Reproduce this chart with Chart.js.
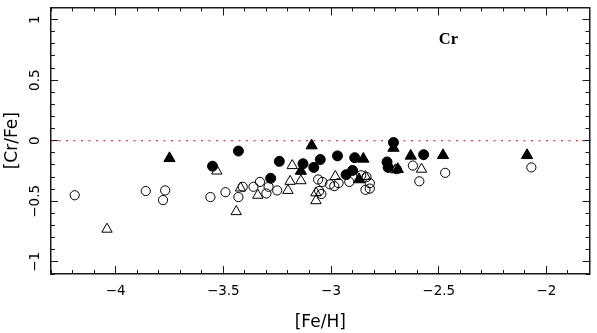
<!DOCTYPE html>
<html><head><meta charset="utf-8">
<script src="https://cdn.jsdelivr.net/npm/chart.js@4"></script>
<style>html,body{margin:0;padding:0;background:#fff}#wrap{width:597px;height:333px;position:relative}</style>
</head><body><div id="wrap"><canvas id="c"></canvas></div>
<script>
// ---- data ----
const filledCircleX = [-3.55, -3.43, -3.28, -3.24, -3.13, -3.08, -3.05, -2.97, -2.93, -2.90, -2.89, -2.71, -2.74, -2.735, -2.57];
const filledCircleY = [-0.21, -0.085, -0.31, -0.17, -0.19, -0.22, -0.155, -0.125, -0.28, -0.245, -0.14, -0.015, -0.175, -0.22, -0.115];

const filledTriX = [-3.75, -3.09, -3.14, -2.85, -2.87, -2.71, -2.69, -2.63, -2.48, -2.09];
const filledTriY = [-0.145, -0.04, -0.25, -0.15, -0.32, -0.06, -0.235, -0.125, -0.12, -0.12];

const openCircleX = [-4.19, -3.86, -3.77, -3.78, -3.56, -3.49, -3.43, -3.41, -3.36, -3.33, -3.30, -3.29, -3.25, -3.06, -3.04, -3.055, -3.045, -3.005, -2.985, -2.965, -2.915, -2.86, -2.835, -2.82, -2.84, -2.82, -2.695, -2.62, -2.59, -2.47, -2.07];
const openCircleY = [-0.45, -0.415, -0.41, -0.49, -0.465, -0.425, -0.465, -0.38, -0.38, -0.34, -0.435, -0.38, -0.41, -0.32, -0.34, -0.415, -0.44, -0.36, -0.375, -0.35, -0.34, -0.285, -0.3, -0.35, -0.405, -0.395, -0.235, -0.205, -0.335, -0.265, -0.22];

const openTriX = [-4.04, -3.53, -3.44, -3.42, -3.34, -3.20, -3.19, -3.18, -3.14, -3.07, -3.07, -2.98, -2.84, -2.58, -2.70];
const openTriY = [-0.73, -0.25, -0.585, -0.39, -0.45, -0.41, -0.335, -0.205, -0.33, -0.43, -0.495, -0.295, -0.295, -0.235, -0.24];

const refLineX = [-4.3, -1.8];
const refLineY = [0, 0];

const xTickValues = [-4, -3.5, -3, -2.5, -2];
const yTickValues = [-1, -0.5, 0, 0.5, 1];
const X_MIN = -4.3, X_MAX = -1.8, Y_MIN = -1.1, Y_MAX = 1.1;

const elementLabel = 'Cr';
const elementLabelX = -2.455, elementLabelY = 0.83;

// ---- chart ----
const INK = '#1a1a1a';
const pts = (xs, ys) => xs.map((x, i) => ({x, y: ys[i]}));
const fmt = v => String(v).replace('-', '\u2212');
const tickFont = {family: 'DejaVu Sans', size: 13.5};
const titleFont = {family: 'DejaVu Sans', size: 17};

function zeroPad(s) { s.paddingTop = 0; s.paddingBottom = 0; s.paddingLeft = 0; s.paddingRight = 0; }

function minorAxis(pos, range, isX, step) {
  return {
    type: 'linear', position: pos, min: range[0], max: range[1],
    ticks: {display: false, stepSize: step},
    grid: {drawOnChartArea: false, tickLength: -4, tickColor: INK, tickWidth: 1},
    border: {display: false},
    afterFit: s => { if (isX) s.height = 0; else s.width = 0; zeroPad(s); }
  };
}
function majorAxis(pos, range, isX, vals, withLabels, tickExtra, extra) {
  return Object.assign({
    type: 'linear', position: pos, min: range[0], max: range[1],
    afterBuildTicks: s => { s.ticks = vals.map(v => ({value: v})); },
    ticks: Object.assign({display: withLabels, autoSkip: false, font: tickFont, color: '#000', callback: fmt}, tickExtra || {}),
    grid: {drawOnChartArea: false, tickLength: isX ? -8 : -7, tickColor: INK, tickWidth: 1},
    border: {display: true, color: INK, width: 1.5},
    afterFit: s => { if (isX) s.height = withLabels ? 59 : 0; else s.width = withLabels ? 51 : 0; zeroPad(s); }
  }, extra || {});
}

const labelPlugin = {
  id: 'elLabel',
  afterDatasetsDraw(chart) {
    const {ctx, scales} = chart;
    ctx.save();
    ctx.font = 'bold 16.5px "Liberation Serif"';
    ctx.fillStyle = '#000';
    ctx.textAlign = 'center';
    ctx.textBaseline = 'middle';
    ctx.fillText(elementLabel, scales.x.getPixelForValue(elementLabelX), scales.y.getPixelForValue(elementLabelY));
    ctx.restore();
  }
};

const xr = [X_MIN, X_MAX], yr = [Y_MIN, Y_MAX];
new Chart(document.getElementById('c'), {
  type: 'scatter',
  data: {
    datasets: [
      {data: pts(filledTriX, filledTriY), pointStyle: 'triangle', pointRadius: 6.5, backgroundColor: '#000', borderColor: '#000', borderWidth: 1},
      {data: pts(filledCircleX, filledCircleY), pointStyle: 'circle', pointRadius: 5, backgroundColor: '#000', borderColor: '#000', borderWidth: 1},
      {data: pts(openTriX, openTriY), pointStyle: 'triangle', pointRadius: 6, backgroundColor: 'rgba(0,0,0,0)', borderColor: '#000', borderWidth: 1},
      {data: pts(openCircleX, openCircleY), pointStyle: 'circle', pointRadius: 4.6, backgroundColor: 'rgba(0,0,0,0)', borderColor: '#000', borderWidth: 1},
      {type: 'line', data: pts(refLineX, refLineY), showLine: true, borderColor: '#e00000', borderWidth: 1, borderDash: [2, 5.5], pointRadius: 0}
    ]
  },
  options: {
    responsive: true, maintainAspectRatio: false, animation: false,
    layout: {padding: {top: 1, right: 1.5, left: 0, bottom: 0}},
    plugins: {legend: {display: false}, tooltip: {enabled: false}},
    scales: {
      xMinor: minorAxis('bottom', xr, true, 0.1),
      yMinor: minorAxis('left', yr, false, 0.1),
      x: majorAxis('bottom', xr, true, xTickValues, true, {padding: 17, maxRotation: 0, minRotation: 0}, {
        title: {display: true, text: '[Fe/H]', font: titleFont, color: '#000', padding: {top: 0, bottom: 0}}
      }),
      y: majorAxis('left', yr, false, yTickValues, true, {padding: 6, minRotation: 90, maxRotation: 90, crossAlign: 'center'}, {
        title: {display: true, text: '[Cr/Fe]', font: titleFont, color: '#000', padding: {top: 2, bottom: 0}}
      }),
      xTopMinor: minorAxis('top', xr, true, 0.1),
      xTop: majorAxis('top', xr, true, xTickValues, false),
      yRightMinor: minorAxis('right', yr, false, 0.1),
      yRight: majorAxis('right', yr, false, yTickValues, false)
    }
  },
  plugins: [labelPlugin]
});
</script>
</body></html>
